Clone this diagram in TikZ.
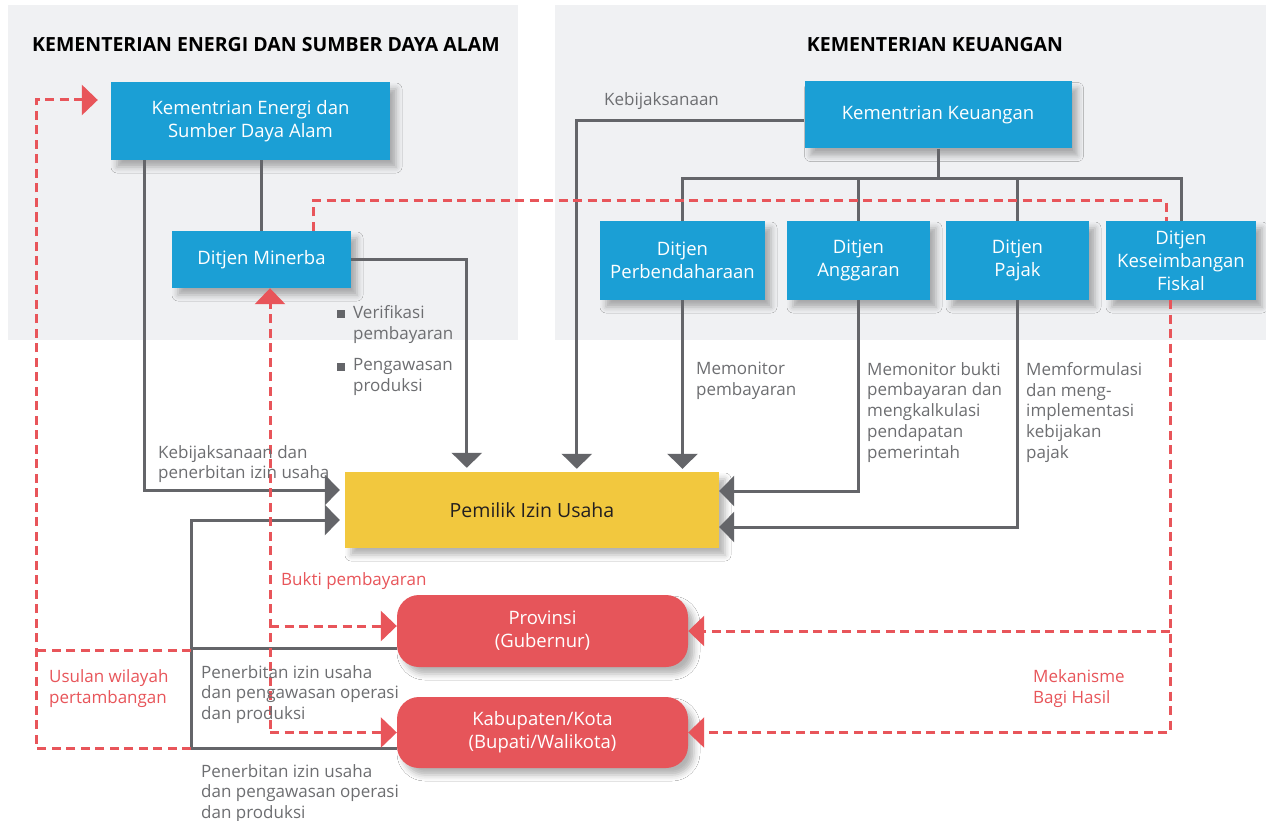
\documentclass[tikz,border=0pt]{standalone}
\usepackage{fontspec}
\setmainfont{Open Sans}
\usetikzlibrary{arrows.meta,shadows.blur}
\definecolor{boxblue}{RGB}{27,159,213}
\definecolor{boxyellow}{RGB}{242,200,62}
\definecolor{boxred}{RGB}{230,85,90}
\definecolor{dashred}{RGB}{232,85,90}
\definecolor{linegray}{RGB}{100,101,105}
\definecolor{textgray}{RGB}{109,110,113}
\definecolor{panelbg}{RGB}{240,241,243}
\definecolor{darktext}{RGB}{35,31,32}
\tikzset{
  x=1pt,y=-1pt,
  shad/.style={blur shadow={shadow xshift=6pt,shadow yshift=-7pt,shadow blur radius=6pt,shadow opacity=30}},
  bluebox/.style={shad,fill=boxblue,text=white,align=center,inner sep=0pt,font=\fontsize{18.5}{23}\selectfont},
  redbox/.style={shad,fill=boxred,text=white,align=center,inner sep=0pt,rounded corners=22pt,font=\fontsize{18.5}{23}\selectfont,minimum width=291pt},
  gline/.style={draw=linegray,line width=3pt},
  garrow/.style={gline,-{Triangle[width=30pt,length=15pt]}},
  rdash/.style={draw=dashred,line width=3pt,dash pattern=on 9pt off 5.5pt},
  rarrow/.style={rdash,-{Triangle[width=30pt,length=16pt]}},
  glabel/.style={text=textgray,align=left,inner sep=0pt,font=\fontsize{17}{20.8}\selectfont},
  rlabel/.style={text=dashred,align=left,inner sep=0pt,font=\fontsize{17}{21.5}\selectfont},
  title/.style={font=\bfseries\fontsize{19.5}{22}\selectfont,text=black,inner sep=0pt},
  bullet/.style={fill=linegray,inner sep=0pt,minimum size=8pt}
}
\begin{document}
\begin{tikzpicture}
\useasboundingbox (0,0) rectangle (1266,821);
\fill[white] (0,0) rectangle (1266,821);
% panels
\fill[panelbg] (8,5) rectangle (518,340);
\fill[panelbg] (555,5) rectangle (1266,340);
\node[title] (t1) at (266,45) {KEMENTERIAN ENERGI DAN SUMBER DAYA ALAM};
\node[title] (t2) at (935,45) {KEMENTERIAN KEUANGAN};

% boxes
\node[bluebox,minimum width=279pt,minimum height=78pt] (kesdm) at (250.5,121) {Kementrian Energi dan\\Sumber Daya Alam};
\node[bluebox,minimum width=179pt,minimum height=57pt] (minerba) at (261.5,259.5) {Ditjen Minerba};
\node[bluebox,minimum width=267pt,minimum height=67pt] (kk) at (938,115) {Kementrian Keuangan};
\node[bluebox,minimum width=165pt,minimum height=79pt] (dp) at (682.5,260.5) {Ditjen\\Perbendaharaan};
\node[bluebox,minimum width=143pt,minimum height=79pt] (da) at (858.5,260.5) {Ditjen\\Anggaran};
\node[bluebox,minimum width=143pt,minimum height=79pt] (dpj) at (1017.5,260.5) {Ditjen\\Pajak};
\node[bluebox,minimum width=150pt,minimum height=79pt] (dkf) at (1181,260.5) {Ditjen\\Keseimbangan\\Fiskal};
\node[shad,fill=boxyellow,text=darktext,minimum width=374pt,minimum height=76pt,inner sep=0pt,font=\fontsize{19.5}{23}\selectfont] (pemilik) at (532,510) {Pemilik Izin Usaha};
\node[redbox,minimum height=72pt] (prov) at (542.5,631) {Provinsi\\(Gubernur)};
\node[redbox,minimum height=71pt] (kab) at (542.5,732.5) {Kabupaten/Kota\\(Bupati/Walikota)};

% coordinates
\coordinate (bus) at (938,179);
\coordinate (gbend) at (191,520);
\coordinate (ul) at (36,100);
\coordinate (rb) at (270,729);
\coordinate (rt) at (1166,201);

% gray connectors
\draw[gline] (minerba.north) -- (minerba.north |- kesdm.south);
\draw[garrow,shorten >=5pt] ([xshift=34pt]kesdm.south west) |- ([yshift=20pt]pemilik.west);
\draw[garrow,shorten >=4pt] (minerba.east) -| ([xshift=122pt]pemilik.north west);
\draw[garrow,shorten >=3pt] ([yshift=-6pt]kk.west) -| ([xshift=232pt]pemilik.north west);
\draw[gline] (kk.south) -- (bus);
\draw[gline] (dp.north) |- (bus) -| (dkf.north);
\draw[gline] (da.north) -- (da.north |- bus);
\draw[gline] (dpj.north) -- (dpj.north |- bus);
\draw[garrow,shorten >=3pt] (dp.south) -- (dp.south |- pemilik.north);
\draw[garrow] (da.south) |- ([yshift=19pt]pemilik.east);
\draw[garrow] (dpj.south) |- ([yshift=-17pt]pemilik.east);
\draw[garrow,shorten >=5pt] ([yshift=-15.5pt]kab.west) -| (gbend) -- ([yshift=-10pt]pemilik.west);
\draw[gline] ([yshift=-17pt]prov.west) -- ([yshift=-17pt]prov.west -| gbend);

% red dashed connectors
\draw[rarrow,shorten >=13pt] ([yshift=-15.5pt]kab.west -| gbend) -| (ul) -- ([yshift=21pt]kesdm.west);
\draw[rdash] ([yshift=-19pt]prov.west -| gbend) -- ([yshift=-19pt]prov.west -| ul);
\draw[rarrow] (rb) -- (rb |- minerba.south);
\draw[rarrow] (rb |- kab.west) -- (kab.west);
\draw[rarrow] ([yshift=5pt]prov.west -| rb) -- ([yshift=5pt]prov.west);
\draw[rdash] ([xshift=51.5pt]minerba.north) |- (rt) -- (rt |- dkf.north);
\draw[rarrow] ([xshift=-11pt]dkf.south) |- (kab.east);
\draw[rarrow] ([xshift=-11pt]dkf.south |- prov.east) -- (prov.east);

% labels
\node[glabel,anchor=base west] (l1) at (604,106) {Kebijaksanaan};
\node[bullet] (b1) at (341,314) {};
\node[bullet] (b2) at (341,367) {};
\node[glabel,anchor=north west] (l2) at (353,305) {Verifikasi\\pembayaran};
\node[glabel,anchor=north west] (l3) at (353,358) {Pengawasan\\produksi};
\node[glabel,anchor=north west] (l4) at (158,445) {Kebijaksanaan dan\\penerbitan izin usaha};
\node[glabel,anchor=north west] (l5) at (696,362) {Memonitor\\pembayaran};
\node[glabel,anchor=north west] (l6) at (867,362) {Memonitor bukti\\pembayaran dan\\mengkalkulasi\\pendapatan\\pemerintah};
\node[glabel,anchor=north west] (l7) at (1026,362) {Memformulasi\\dan meng-\\implementasi\\kebijakan\\pajak};
\node[glabel,anchor=north west] (l8) at (201,665) {Penerbitan izin usaha\\dan pengawasan operasi\\dan produksi};
\node[glabel,anchor=north west] (l9) at (201,764) {Penerbitan izin usaha\\dan pengawasan operasi\\dan produksi};
\node[rlabel,anchor=north west] (r1) at (281,572) {Bukti pembayaran};
\node[rlabel,anchor=north west] (r2) at (49,669) {Usulan wilayah\\pertambangan};
\node[rlabel,anchor=north west] (r3) at (1033,669) {Mekanisme\\Bagi Hasil};
\end{tikzpicture}
\end{document}
